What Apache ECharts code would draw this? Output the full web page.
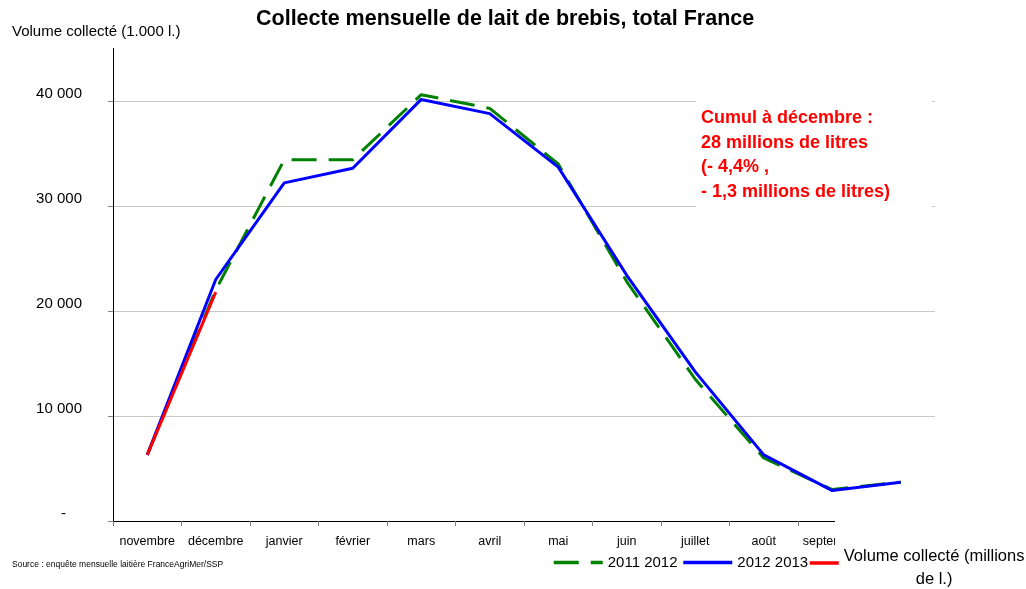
<!DOCTYPE html>
<html>
<head>
<meta charset="utf-8">
<script src="https://cdn.jsdelivr.net/npm/echarts@6.0.0/dist/echarts.min.js"></script>
<style>
  html, body { margin: 0; padding: 0; background: #fff; }
  #chart { width: 1026px; height: 589px; }
</style>
</head>
<body>
<div id="chart"></div>
<script>
// months of the campaign, november -> october
const months = ['novembre', 'décembre', 'janvier', 'février', 'mars', 'avril',
  'mai', 'juin', 'juillet', 'août', 'septembre', 'octobre'];

// volumes in 1.000 l.
const campaign1112 = [6300, 22000, 34400, 34400, 40600, 39300, 34000, 22800, 13500, 6000, 3000, 3700];
const campaign1213 = [6300, 23000, 32200, 33600, 40150, 38800, 33700, 23400, 14200, 6300, 2900, 3700];
const campaign1314 = [6300, 21800];

const yTicks = [0, 10000, 20000, 30000, 40000];

const redName = 'Volume collecté (millions de l.)';
const font = "'Liberation Sans', Arial, sans-serif";

function fmtThousands(v) {
  if (v === 0) return '{d|-}';
  return String(v).replace(/\B(?=(\d{3})+(?!\d))/g, ' ');
}

const chart = echarts.init(document.getElementById('chart'));
chart.setOption({
  animation: false,
  backgroundColor: '#fff',
  textStyle: { fontFamily: font },
  title: [
    {
      text: 'Collecte mensuelle de lait de brebis, total France',
      left: 256, top: 8, padding: 0,
      textStyle: { fontSize: 21.5, fontWeight: 'bold', color: '#000', fontFamily: font }
    },
    {
      text: 'Volume collecté (1.000 l.)',
      left: 12, top: 24, padding: 0,
      textStyle: { fontSize: 15, fontWeight: 'normal', color: '#000', fontFamily: font }
    },
    {
      text: 'Source : enquête mensuelle laitière FranceAgriMer/SSP',
      left: 12, top: 560, padding: 0,
      textStyle: { fontSize: 8.5, fontWeight: 'normal', color: '#000', fontFamily: font }
    }
  ],
  grid: { left: 113, right: 91, top: 48.5, bottom: 68, containLabel: false },
  xAxis: {
    type: 'category',
    data: months,
    boundaryGap: true,
    axisLine: { lineStyle: { color: '#000', width: 1 } },
    axisTick: { show: true, length: 5, alignWithLabel: false, lineStyle: { color: '#808080' } },
    axisLabel: { interval: 0, margin: 14, fontSize: 12.5, color: '#000', fontFamily: font },
    splitLine: { show: false }
  },
  yAxis: {
    type: 'value',
    min: 0,
    max: 45000,
    interval: 10000,
    axisLine: { show: true, lineStyle: { color: '#000', width: 1 } },
    axisTick: { show: true, length: 5, customValues: yTicks, lineStyle: { color: '#808080' } },
    axisLabel: {
      customValues: yTicks,
      margin: 31,
      fontSize: 15,
      color: '#000',
      fontFamily: font,
      verticalAlign: 'bottom',
      lineHeight: 14,
      formatter: fmtThousands,
      rich: { d: { fontSize: 15, lineHeight: 14, padding: [0, 16, 0, 0], color: '#000' } }
    },
    splitLine: { show: true, lineStyle: { color: '#c8c8c8', width: 1 } }
  },
  legend: [
    {
      data: ['2011 2012', '2012 2013'],
      left: 552, top: 555, padding: 0,
      itemWidth: 49, itemHeight: 3, itemGap: 4,
      itemStyle: { opacity: 0 },
      lineStyle: { width: 3.5 },
      textStyle: { fontSize: 15, color: '#000', fontFamily: font }
    },
    {
      data: [redName],
      left: 808, top: 536, padding: 0,
      itemWidth: 29, itemHeight: 3,
      itemStyle: { opacity: 0 },
      lineStyle: { width: 3.5 },
      formatter: () => '{e| }\n{a|Volume collecté (millions}\n{b|de l.)}',
      textStyle: {
        color: '#000', fontFamily: font,
        rich: {
          e: { fontSize: 8, lineHeight: 9 },
          a: { fontSize: 16.5, lineHeight: 23, color: '#000' },
          b: { fontSize: 16.5, lineHeight: 23, color: '#000', align: 'center' }
        }
      }
    }
  ],
  graphic: [
    // the legend box hides the end of the x axis
    { type: 'rect', z: 3, silent: true, shape: { x: 835, y: 512, width: 191, height: 77 }, style: { fill: '#fff' } },
    // annotation
    { type: 'rect', z: 5, silent: true, shape: { x: 696, y: 97, width: 236, height: 113 }, style: { fill: '#fff' } },
    {
      type: 'text', z: 6, silent: true, left: 701, top: 106,
      style: {
        text: 'Cumul à décembre :\n28 millions de litres\n(- 4,4% ,\n- 1,3 millions de litres)',
        fill: '#ff0000',
        font: 'bold 18px ' + font,
        lineHeight: 24.5
      }
    }
  ],
  series: [
    {
      name: '2011 2012', type: 'line', data: campaign1112, symbol: 'none', z: 2,
      itemStyle: { color: '#008000' },
      lineStyle: { color: '#008000', width: 3, type: [25, 12] }
    },
    {
      name: '2012 2013', type: 'line', data: campaign1213, symbol: 'none', z: 3,
      itemStyle: { color: '#0000ff' },
      lineStyle: { color: '#0000ff', width: 3 }
    },
    {
      name: redName, type: 'line', data: campaign1314, symbol: 'none', z: 4,
      itemStyle: { color: '#ff0000' },
      lineStyle: { color: '#ff0000', width: 3 }
    }
  ]
});
</script>
</body>
</html>
